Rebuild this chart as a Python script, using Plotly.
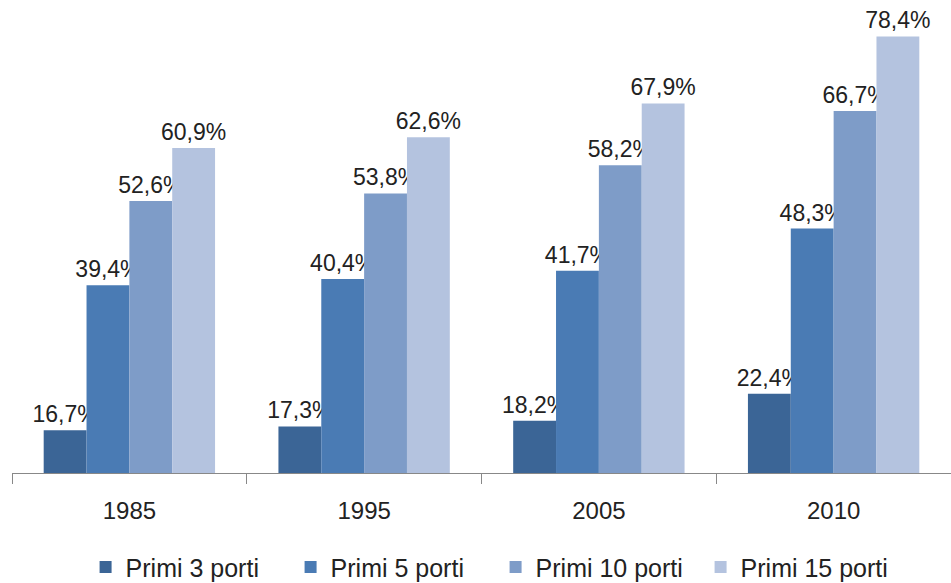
import plotly.graph_objects as go

years = ["1985", "1995", "2005", "2010"]
series_names = ["Primi 3 porti", "Primi 5 porti", "Primi 10 porti", "Primi 15 porti"]
primi3 = [16.7, 17.3, 18.2, 22.4]
primi5 = [39.4, 40.4, 41.7, 48.3]
primi10 = [52.6, 53.8, 58.2, 66.7]
primi15 = [60.9, 62.6, 67.9, 78.4]
colors = ["#3B6596", "#4A7BB4", "#7E9CC8", "#B4C3DF"]

fig = go.Figure()
for name, vals, col in zip(series_names, [primi3, primi5, primi10, primi15], colors):
    fig.add_trace(go.Bar(
        x=years, y=vals, name=name, marker_color=col, marker_line_width=0,
        text=[f"{v:.1f}%".replace(".", ",") for v in vals],
        textposition="outside", cliponaxis=False, constraintext="none",
        textfont=dict(size=23, color="#222222", family="Liberation Sans"),
    ))

fig.update_layout(
    width=951, height=583,
    margin=dict(l=12, r=0, t=0, b=110, autoexpand=False),
    paper_bgcolor="white", plot_bgcolor="white",
    barmode="group", bargap=0.27, bargroupgap=0,
    font=dict(family="Liberation Sans", size=24, color="#222222"),
    showlegend=True,
    legend=dict(orientation="h", x=0.515, xanchor="center", y=-0.199, yanchor="middle",
                font=dict(size=25, color="#222222"), itemwidth=30, traceorder="normal",
                entrywidth=160),
)
fig.update_xaxes(type="category", showline=True, linecolor="#888888", linewidth=1,
                 ticks="outside", tickson="boundaries", ticklen=10, tickcolor="#888888",
                 ticklabelstandoff=16, automargin=False,
                 showgrid=False, tickfont=dict(size=24, color="#222222"))
fig.update_yaxes(range=[10, 84.1], visible=False, showgrid=False, zeroline=False, automargin=False)

fig.write_html("out.html")
